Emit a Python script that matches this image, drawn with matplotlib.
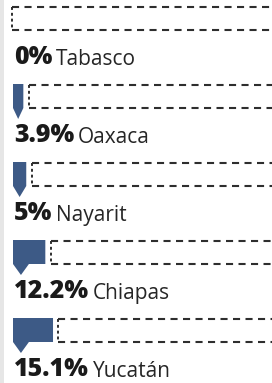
import matplotlib
matplotlib.use("Agg")
import matplotlib.pyplot as plt
from matplotlib.patches import Polygon

# ---- data ----
states = ["Tabasco", "Oaxaca", "Nayarit", "Chiapas", "Yucatán"]
values = [0.0, 3.9, 5.0, 12.2, 15.1]
labels = ["0%", "3.9%", "5%", "12.2%", "15.1%"]

# ---- layout (pixel-based) ----
W, H = 272, 383
DPI = 100
PX_PER_PCT = 2.65
X0_PX = 13
ROW_TOP0 = 6
ROW_STEP = 78
BAR_H = 24
TIP_W_PCT = 6.0
TIP_H = 11
TEXT_OFF = 58
BAR_COLOR = "#3d5a86"
LINE_COLOR = "#2e2e2e"

fig = plt.figure(figsize=(W / DPI, H / DPI), dpi=DPI)
ax = fig.add_axes([0, 0, 1, 1])
ax.set_xlim(-X0_PX / PX_PER_PCT, (W - X0_PX) / PX_PER_PCT)
ax.set_ylim(H, 0)
ax.axis("off")
fig.patch.set_facecolor("white")

# faint scanned edge on the left
ax.axvspan(-X0_PX / PX_PER_PCT, -X0_PX / PX_PER_PCT + 4 / PX_PER_PCT,
           color="#e6e6e6", lw=0, zorder=0)

xmax = (W - X0_PX) / PX_PER_PCT + 2
for i, (st, v, lab) in enumerate(zip(states, values, labels)):
    top = ROW_TOP0 + ROW_STEP * i
    bot = top + BAR_H
    # bar with pointer tip
    if v > 0:
        tw = min(v, TIP_W_PCT)
        pts = [(0, top), (v, top), (v, bot), (tw, bot),
               (tw / 2, bot + TIP_H), (0, bot)]
        ax.add_patch(Polygon(pts, closed=True, facecolor=BAR_COLOR,
                             edgecolor="none", zorder=3))
    # dashed box
    left = v + 2.0 if v > 0 else -0.4
    ax.plot([left, xmax], [top + 1, top + 1], color=LINE_COLOR, lw=1.5,
            dashes=(3.4, 2.6), dash_capstyle="butt", zorder=2)
    ax.plot([left, xmax], [bot, bot], color=LINE_COLOR, lw=1.5,
            dashes=(3.4, 2.6), dash_capstyle="butt", zorder=2)
    ax.plot([left, left], [top + 1, bot], color=LINE_COLOR, lw=1.4,
            dashes=(1.5, 1.5), dash_capstyle="butt", zorder=2)
    # labels
    base = top + TEXT_OFF
    t1 = ax.text(0.3, base, lab, fontsize=18, fontweight=800,
                 family=["Open Sans", "DejaVu Sans"], color="#1a1a1a",
                 ha="left", va="baseline", zorder=4)
    ax.annotate(st, xy=(1, 0), xycoords=t1, xytext=(3, 0),
                textcoords="offset points", fontsize=15,
                family=["Open Sans", "DejaVu Sans"], color="#262626",
                ha="left", va="bottom", zorder=4)

fig.savefig("out.png", dpi=DPI, facecolor="white")
